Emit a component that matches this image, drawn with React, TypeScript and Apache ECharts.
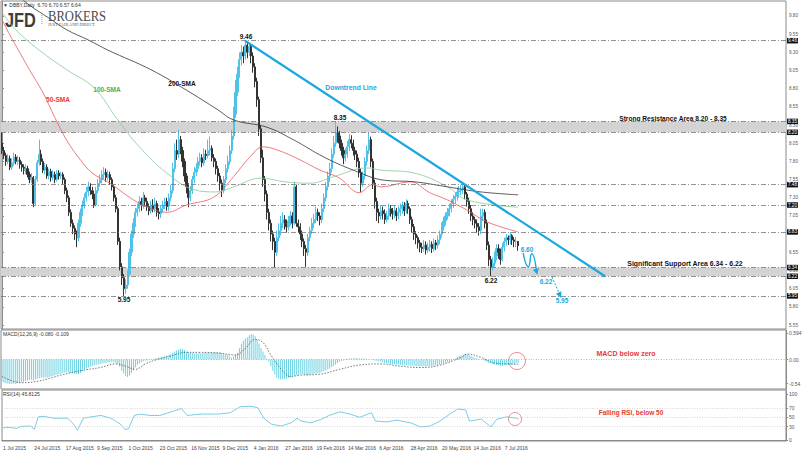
import React, { useEffect, useRef } from "react";
import * as echarts from "echarts";

// ---------- axis / labels ----------
const dateLabels = ["1 Jul 2015", "24 Jul 2015", "17 Aug 2015", "9 Sep 2015", "1 Oct 2015", "23 Oct 2015", "16 Nov 2015", "9 Dec 2015", "4 Jan 2016", "27 Jan 2016", "19 Feb 2016", "14 Mar 2016", "6 Apr 2016", "28 Apr 2016", "20 May 2016", "14 Jun 2016", "7 Jul 2016"];
const LABEL_STEP = 16;
const TOTAL_SLOTS = 400;
const priceTicks = [9.8, 9.55, 9.3, 9.05, 8.8, 8.55, 8.3, 8.05, 7.8, 7.55, 7.3, 7.05, 6.8, 6.55, 6.3, 6.05, 5.8, 5.55];
// 6.80 sits behind the 6.83 price tag in the original, so its text is not shown
const hiddenPriceLabels = [6.8];
const macdTicks = [0.594, 0, -0.54];
const rsiTicks = [100, 70, 50, 30, 0];
const rsiLevels = [70, 50, 30];

// ---------- price data (daily) ----------
const firstOpen = 8.05;
const closes = [
  7.95, 7.88, 7.80, 7.84, 7.72, 7.78, 7.86, 7.80, 7.82, 7.76,
  7.72, 7.68, 7.70, 7.62, 7.55, 7.58, 7.22, 7.55, 7.78, 7.90,
  7.80, 7.68, 7.72, 7.60, 7.66, 7.58, 7.62, 7.55, 7.64, 7.60,
  7.62, 7.55, 7.40, 7.30, 7.10, 6.95, 6.88, 6.80, 6.75, 6.95,
  7.10, 7.20, 7.30, 7.38, 7.45, 7.40, 7.35, 7.20, 7.40, 7.50,
  7.55, 7.62, 7.65, 7.58, 7.62, 7.55, 7.45, 7.30, 7.15, 6.70,
  6.35, 6.20, 6.05, 6.10, 6.25, 6.55, 6.80, 6.95, 7.10, 7.15,
  7.25, 7.20, 7.30, 7.25, 7.18, 7.12, 7.20, 7.15, 7.22, 7.10,
  7.08, 7.15, 7.20, 7.25, 7.18, 7.30, 7.40, 7.70, 7.95, 7.90,
  8.10, 7.95, 7.80, 7.60, 7.45, 7.30, 7.40, 7.55, 7.65, 7.70,
  7.80, 7.85, 7.78, 7.90, 7.88, 7.95, 7.98, 7.85, 7.80, 7.70,
  7.60, 7.50, 7.40, 7.55, 7.70, 7.80, 7.95, 8.15, 8.45, 8.75,
  9.00, 9.20, 9.30, 9.25, 9.40, 9.30, 9.38, 9.25, 9.10, 8.90,
  8.65, 8.25, 7.85, 7.55, 7.35, 7.10, 6.95, 6.80, 6.70, 6.55,
  6.75, 6.85, 6.95, 7.00, 6.95, 6.90, 6.98, 7.05, 6.95, 7.45,
  6.95, 6.90, 6.80, 6.70, 6.60, 6.55, 6.75, 6.85, 6.95, 7.00,
  7.10, 7.05, 7.00, 7.15, 7.30, 7.45, 7.60, 7.70, 7.90, 8.05,
  8.20, 8.15, 8.05, 7.95, 7.85, 7.90, 8.00, 8.10, 8.05, 7.95,
  7.90, 7.80, 7.65, 7.50, 7.60, 7.80, 7.95, 8.10, 7.80, 7.50,
  7.25, 7.10, 7.05, 7.12, 7.08, 7.00, 7.05, 7.15, 7.10, 7.08,
  7.12, 7.05, 7.10, 7.15, 7.18, 7.12, 7.22, 7.15, 7.00, 6.90,
  6.80, 6.75, 6.68, 6.62, 6.60, 6.65, 6.58, 6.62, 6.66, 6.60,
  6.68, 6.65, 6.72, 6.80, 6.90, 6.98, 7.05, 7.10, 7.15, 7.22,
  7.28, 7.32, 7.38, 7.40, 7.42, 7.45, 7.35, 7.25, 7.15, 7.05,
  7.00, 6.95, 6.90, 6.85, 7.05, 7.10, 6.95, 6.65, 6.45, 6.35,
  6.40, 6.50, 6.60, 6.55, 6.45, 6.62, 6.70, 6.75, 6.72, 6.78,
  6.72, 6.70, 6.70, 6.64
];
const highs = [
  8.20, 8.00, 7.92, 7.90, 7.88, 7.84, 7.92, 7.90, 7.88, 7.86,
  7.80, 7.76, 7.76, 7.74, 7.66, 7.64, 7.60, 7.60, 7.82, 8.10,
  7.96, 7.84, 7.78, 7.76, 7.70, 7.70, 7.68, 7.66, 7.68, 7.68,
  7.66, 7.65, 7.58, 7.44, 7.33, 7.14, 7.00, 6.92, 6.85, 7.00,
  7.15, 7.26, 7.36, 7.45, 7.52, 7.50, 7.45, 7.40, 7.45, 7.56,
  7.62, 7.68, 7.72, 7.70, 7.68, 7.66, 7.58, 7.48, 7.34, 7.18,
  6.75, 6.40, 6.25, 6.18, 6.30, 6.60, 6.85, 7.02, 7.16, 7.22,
  7.32, 7.30, 7.38, 7.34, 7.30, 7.22, 7.26, 7.28, 7.30, 7.26,
  7.16, 7.20, 7.26, 7.30, 7.30, 7.36, 7.48, 7.78, 8.05, 8.10,
  8.23, 8.15, 8.00, 7.84, 7.64, 7.50, 7.46, 7.60, 7.72, 7.78,
  7.86, 7.92, 7.90, 7.98, 7.96, 8.10, 8.14, 8.02, 7.90, 7.84,
  7.74, 7.64, 7.55, 7.60, 7.76, 7.88, 8.02, 8.23, 8.55, 8.92,
  9.10, 9.30, 9.40, 9.38, 9.46, 9.44, 9.43, 9.42, 9.30, 9.15,
  8.95, 8.69, 8.30, 7.96, 7.60, 7.40, 7.15, 7.00, 6.85, 6.75,
  6.85, 6.95, 7.05, 7.10, 7.06, 7.00, 7.05, 7.12, 7.10, 7.52,
  7.48, 7.00, 6.95, 6.85, 6.74, 6.65, 6.80, 6.90, 7.02, 7.08,
  7.18, 7.15, 7.10, 7.22, 7.36, 7.52, 7.66, 7.78, 7.98, 8.15,
  8.35, 8.28, 8.22, 8.10, 8.00, 7.98, 8.08, 8.18, 8.16, 8.10,
  8.00, 7.95, 7.85, 7.70, 7.66, 7.86, 8.02, 8.20, 8.14, 7.84,
  7.55, 7.30, 7.15, 7.20, 7.18, 7.14, 7.12, 7.22, 7.20, 7.16,
  7.20, 7.16, 7.18, 7.22, 7.25, 7.24, 7.28, 7.26, 7.18, 7.04,
  6.94, 6.84, 6.78, 6.72, 6.68, 6.72, 6.70, 6.68, 6.72, 6.70,
  6.74, 6.72, 6.78, 6.85, 6.96, 7.04, 7.10, 7.16, 7.22, 7.28,
  7.34, 7.38, 7.44, 7.46, 7.48, 7.52, 7.48, 7.38, 7.30, 7.20,
  7.10, 7.04, 7.00, 6.95, 7.15, 7.15, 7.14, 7.00, 6.70, 6.50,
  6.48, 6.56, 6.66, 6.66, 6.60, 6.68, 6.75, 6.80, 6.78, 6.83,
  6.80, 6.76, 6.76, 6.70
];
const lows = [
  7.90, 7.83, 7.74, 7.76, 7.68, 7.68, 7.74, 7.76, 7.75, 7.70,
  7.66, 7.62, 7.63, 7.58, 7.50, 7.50, 7.17, 7.20, 7.52, 7.74,
  7.75, 7.64, 7.62, 7.56, 7.55, 7.52, 7.54, 7.50, 7.52, 7.55,
  7.56, 7.48, 7.35, 7.24, 7.05, 6.90, 6.80, 6.72, 6.62, 6.70,
  6.90, 7.05, 7.15, 7.25, 7.32, 7.34, 7.28, 7.16, 7.18, 7.36,
  7.45, 7.50, 7.56, 7.52, 7.54, 7.48, 7.40, 7.25, 7.10, 6.65,
  6.30, 6.10, 5.95, 5.98, 6.05, 6.22, 6.50, 6.75, 6.90, 7.04,
  7.10, 7.12, 7.15, 7.18, 7.12, 7.06, 7.08, 7.10, 7.10, 7.04,
  7.00, 7.02, 7.10, 7.14, 7.12, 7.12, 7.25, 7.36, 7.65, 7.82,
  7.85, 7.90, 7.72, 7.52, 7.36, 7.17, 7.25, 7.35, 7.50, 7.60,
  7.65, 7.74, 7.72, 7.74, 7.82, 7.84, 7.88, 7.80, 7.72, 7.62,
  7.52, 7.40, 7.31, 7.36, 7.50, 7.65, 7.75, 7.90, 8.10, 8.40,
  8.70, 8.95, 9.12, 9.15, 9.20, 9.22, 9.25, 9.15, 9.02, 8.82,
  8.55, 8.15, 7.78, 7.45, 7.25, 7.00, 6.85, 6.70, 6.58, 6.34,
  6.50, 6.70, 6.78, 6.88, 6.86, 6.82, 6.85, 6.92, 6.88, 6.92,
  6.90, 6.82, 6.72, 6.62, 6.50, 6.35, 6.50, 6.70, 6.80, 6.88,
  6.95, 6.98, 6.92, 6.95, 7.10, 7.25, 7.40, 7.52, 7.65, 7.85,
  8.00, 8.06, 7.98, 7.88, 7.76, 7.80, 7.85, 7.94, 7.98, 7.88,
  7.82, 7.72, 7.58, 7.38, 7.45, 7.55, 7.74, 7.90, 7.72, 7.42,
  7.15, 6.98, 6.95, 7.00, 7.00, 6.94, 6.96, 7.00, 7.04, 7.00,
  7.02, 6.98, 7.00, 7.05, 7.08, 7.05, 7.08, 7.08, 6.94, 6.82,
  6.72, 6.66, 6.60, 6.55, 6.54, 6.56, 6.52, 6.54, 6.56, 6.54,
  6.56, 6.58, 6.60, 6.66, 6.75, 6.85, 6.92, 7.00, 7.04, 7.10,
  7.16, 7.22, 7.26, 7.30, 7.34, 7.35, 7.28, 7.18, 7.08, 6.98,
  6.92, 6.88, 6.82, 6.78, 6.80, 6.98, 6.88, 6.58, 6.36, 6.22,
  6.30, 6.35, 6.44, 6.46, 6.38, 6.42, 6.56, 6.64, 6.65, 6.66,
  6.65, 6.62, 6.62, 6.57
];

// moving averages, read at [bar index, value]
const sma50 = [[0, 9.75], [4, 9.54], [9, 9.30], [14, 9.06], [21, 8.74], [27, 8.40], [33, 8.09], [40, 7.82], [46, 7.64], [55, 7.50], [67, 7.27], [75, 7.16], [84, 7.10], [94, 7.20], [108, 7.31], [118, 7.59], [126, 7.85], [133, 8.00], [140, 7.96], [152, 7.82], [162, 7.68], [172, 7.57], [182, 7.37], [189, 7.48], [193, 7.45], [208, 7.52], [218, 7.37], [227, 7.27], [237, 7.13], [247, 6.97], [263, 6.83]];
const sma100 = [[0, 9.85], [7, 9.61], [19, 9.33], [33, 9.06], [47, 8.81], [59, 8.37], [70, 8.00], [84, 7.64], [98, 7.41], [109, 7.38], [118, 7.45], [132, 7.57], [144, 7.52], [157, 7.50], [169, 7.59], [186, 7.71], [193, 7.68], [210, 7.64], [227, 7.45], [237, 7.27], [263, 7.17]];
const sma200 = [[0, 10.25], [14, 9.95], [24, 9.77], [33, 9.61], [44, 9.47], [54, 9.33], [76, 9.06], [94, 8.78], [110, 8.51], [118, 8.37], [135, 8.27], [149, 8.09], [164, 7.86], [179, 7.68], [195, 7.54], [210, 7.52], [227, 7.45], [244, 7.38], [263, 7.34]];

// MACD histogram per bar and signal line
const macd = [
  -0.50, -0.52, -0.53, -0.54, -0.55, -0.55, -0.54, -0.54, -0.53, -0.52,
  -0.51, -0.50, -0.48, -0.47, -0.46, -0.45, -0.47, -0.45, -0.43, -0.42,
  -0.41, -0.41, -0.40, -0.40, -0.39, -0.38, -0.37, -0.35, -0.34, -0.33,
  -0.32, -0.30, -0.29, -0.28, -0.29, -0.30, -0.31, -0.32, -0.33, -0.33,
  -0.30, -0.26, -0.22, -0.20, -0.18, -0.16, -0.15, -0.13, -0.12, -0.11,
  -0.10, -0.09, -0.08, -0.07, -0.06, -0.06, -0.05, -0.06, -0.08, -0.10,
  -0.16, -0.25, -0.32, -0.37, -0.39, -0.36, -0.30, -0.24, -0.18, -0.12,
  -0.09, -0.06, -0.04, -0.02, -0.02, -0.01, 0.00, 0.01, 0.02, 0.03,
  0.04, 0.05, 0.06, 0.07, 0.09, 0.10, 0.12, 0.15, 0.18, 0.20,
  0.22, 0.24, 0.23, 0.21, 0.18, 0.16, 0.15, 0.15, 0.14, 0.14,
  0.14, 0.14, 0.14, 0.15, 0.15, 0.15, 0.15, 0.16, 0.16, 0.16,
  0.16, 0.16, 0.14, 0.12, 0.11, 0.10, 0.07, 0.04, 0.07, 0.11,
  0.15, 0.25, 0.35, 0.42, 0.47, 0.50, 0.54, 0.57, 0.56, 0.52,
  0.45, 0.35, 0.26, 0.18, 0.10, 0.02, -0.05, -0.15, -0.25, -0.33,
  -0.40, -0.43, -0.45, -0.45, -0.44, -0.43, -0.41, -0.40, -0.38, -0.36,
  -0.35, -0.34, -0.33, -0.33, -0.34, -0.35, -0.35, -0.34, -0.33, -0.32,
  -0.32, -0.31, -0.30, -0.28, -0.26, -0.24, -0.22, -0.20, -0.17, -0.14,
  -0.11, -0.08, -0.05, -0.03, -0.02, -0.01, 0.01, 0.02, 0.02, 0.03,
  0.03, 0.03, 0.03, 0.02, 0.02, 0.02, 0.01, 0.01, 0.00, -0.01,
  -0.02, -0.03, -0.04, -0.05, -0.06, -0.07, -0.08, -0.09, -0.10, -0.10,
  -0.11, -0.11, -0.12, -0.12, -0.12, -0.13, -0.13, -0.13, -0.14, -0.14,
  -0.14, -0.15, -0.15, -0.15, -0.15, -0.15, -0.15, -0.15, -0.15, -0.14,
  -0.14, -0.13, -0.13, -0.12, -0.10, -0.09, -0.07, -0.06, -0.05, -0.03,
  -0.01, 0.02, 0.05, 0.07, 0.09, 0.11, 0.13, 0.12, 0.10, 0.08,
  0.06, 0.04, 0.02, 0.01, 0.00, -0.01, -0.03, -0.05, -0.07, -0.08,
  -0.10, -0.11, -0.12, -0.13, -0.14, -0.14, -0.13, -0.13, -0.12, -0.12,
  -0.11, -0.10, -0.09, -0.08
];
const macdSignal = [[0, -0.38], [10, -0.52], [19, -0.48], [30, -0.35], [40, -0.25], [50, -0.18], [58, -0.10], [63, -0.15], [68, -0.22], [73, -0.10], [79, 0.00], [86, 0.08], [94, 0.16], [101, 0.16], [111, 0.14], [119, 0.10], [124, 0.25], [129, 0.45], [133, 0.38], [137, 0.10], [142, -0.20], [147, -0.38], [152, -0.35], [162, -0.33], [172, -0.22], [183, -0.12], [193, -0.10], [203, -0.15], [213, -0.18], [223, -0.13], [234, 0.05], [237, 0.12], [244, 0.05], [251, -0.08], [259, -0.10], [263, -0.11]];
const rsi = [[0, 27], [3, 28], [7, 26], [9, 30], [14, 31], [16, 24], [18, 51], [21, 52], [26, 48], [33, 48], [36, 35], [38, 22], [41, 48], [45, 51], [50, 54], [55, 48], [60, 35], [62, 24], [64, 25], [67, 54], [70, 57], [75, 54], [80, 54], [86, 62], [91, 69], [94, 54], [101, 57], [110, 57], [116, 60], [121, 73], [126, 74], [130, 71], [133, 48], [137, 35], [142, 31], [147, 38], [150, 48], [152, 42], [157, 38], [162, 45], [167, 55], [172, 62], [177, 57], [182, 50], [188, 60], [190, 42], [196, 40], [201, 44], [203, 42], [208, 38], [213, 29], [218, 31], [223, 42], [228, 57], [232, 68], [236, 66], [238, 42], [244, 46], [249, 29], [252, 46], [257, 51], [262, 48], [263, 45.5]];

// levels & annotations (data coordinates)
const levelLines = [9.46, 8.35, 8.2, 7.48, 7.2, 6.83, 6.34, 6.22, 5.95];
const currentPrice = 6.64;
const zones = [[8.2, 8.35], [6.22, 6.34]];
const trendLine = [[123.8, 9.46], [307.3, 6.22]];
const projWave = [[265.6, 6.54], [268.2, 6.35], [269.9, 6.53], [272.4, 6.28]];
const projDash = [[280.3, 6.21], [284.3, 5.96]];

const PRICE_MIN = 5.495, PRICE_MAX = 10.006;
const CYAN = "#1aa8e0";

export default function App() {
  const ref = useRef<HTMLDivElement>(null);
  useEffect(() => {
    const chart = echarts.init(ref.current!, null, { renderer: "svg" });
    const categories = Array.from({ length: TOTAL_SLOTS }, (_, i) => String(i));
    const showLabel = (i: number) => i % LABEL_STEP === 0 && i / LABEL_STEP < dateLabels.length;
    const candles = closes.map((c, i) => [i === 0 ? firstOpen : closes[i - 1], c, lows[i], highs[i]]);
    const priceLabelValues = priceTicks.filter((v) => !hiddenPriceLabels.includes(v));
    const font = "Liberation Sans";
    const txt = (x: number, y: number, text: string, fill: string, size = 6.5, weight = "bold", align = "center") => ({
      type: "text", x, y, silent: true,
      style: { text, fill, fontSize: size, fontWeight: weight, fontFamily: font, align, verticalAlign: "middle" },
    });
    const option: any = {
      animation: false,
      textStyle: { fontFamily: font },
      grid: [
        { left: 1, top: 1, width: 785, height: 328, show: true, borderColor: "#8a8a8a", borderWidth: 1 },
        { left: 1, top: 330, width: 785, height: 59, show: true, borderColor: "#8a8a8a", borderWidth: 1 },
        { left: 1, top: 390, width: 785, height: 51, show: true, borderColor: "#8a8a8a", borderWidth: 1 },
      ],
      xAxis: [
        { type: "category", gridIndex: 0, data: categories, show: false },
        { type: "category", gridIndex: 1, data: categories, show: false },
        {
          type: "category", gridIndex: 2, data: categories,
          axisLine: { lineStyle: { color: "#8a8a8a" } },
          axisTick: { alignWithLabel: true, interval: (i: number) => showLabel(i), length: 3, lineStyle: { color: "#8a8a8a" } },
          axisLabel: { interval: (i: number) => showLabel(i), formatter: (_v: string, i: number) => dateLabels[i / LABEL_STEP] ?? "", fontSize: 5, color: "#444", align: "left", margin: 4 },
          splitLine: { show: false },
        },
        { type: "value", gridIndex: 0, min: -0.5, max: TOTAL_SLOTS - 0.5, show: false },
      ],
      yAxis: [
        {
          type: "value", gridIndex: 0, position: "right", min: PRICE_MIN, max: PRICE_MAX,
          axisLine: { show: true, lineStyle: { color: "#8a8a8a" } },
          axisTick: { show: true, length: 2, customValues: priceTicks, lineStyle: { color: "#8a8a8a" } },
          axisLabel: { customValues: priceLabelValues, formatter: (v: number) => v.toFixed(2), fontSize: 4.6, color: "#555", margin: 3 },
          splitLine: { show: false },
        },
        {
          type: "value", gridIndex: 1, position: "right", min: -0.66, max: 0.66,
          axisLine: { show: true, lineStyle: { color: "#8a8a8a" } },
          axisTick: { show: true, length: 2, customValues: macdTicks, lineStyle: { color: "#8a8a8a" } },
          axisLabel: { customValues: macdTicks, formatter: (v: number) => (v === 0 ? "0.00" : String(v)), fontSize: 5, color: "#555", margin: 3 },
          splitLine: { show: false },
        },
        {
          type: "value", gridIndex: 2, position: "right", min: -1.5, max: 109.3,
          axisLine: { show: true, lineStyle: { color: "#8a8a8a" } },
          axisTick: { show: true, length: 2, customValues: rsiTicks, lineStyle: { color: "#8a8a8a" } },
          axisLabel: { customValues: rsiTicks, fontSize: 5, color: "#555", margin: 3 },
          splitLine: { show: false },
        },
      ],
      series: [
        {
          type: "line", xAxisIndex: 0, yAxisIndex: 0, data: [], z: 1, silent: true,
          markArea: { silent: true, itemStyle: { color: "#d3d3d3" }, data: zones.map(([a, b]) => [{ yAxis: a }, { yAxis: b }]) },
          markLine: {
            silent: true, symbol: "none",
            lineStyle: { color: "#777", width: 0.8, type: [5, 2, 1, 2] },
            label: { show: true, position: "end", distance: 1, formatter: (p: any) => Number(p.value).toFixed(2), fontSize: 4.6, lineHeight: 5, color: "#fff", backgroundColor: "#111", padding: [0.5, 1, 0, 1] },
            data: [
              ...levelLines.map((v) => ({ yAxis: v })),
              { yAxis: currentPrice, lineStyle: { opacity: 0 }, label: { backgroundColor: "#666" } },
            ],
          },
        },
        {
          type: "candlestick", xAxisIndex: 0, yAxisIndex: 0, data: candles, z: 3, barWidth: 1.6,
          itemStyle: { color: "#4fc2ea", color0: "#333333", borderColor: "#4fc2ea", borderColor0: "#333333", borderWidth: 1 },
        },
        { type: "line", xAxisIndex: 0, yAxisIndex: 0, data: sma50, smooth: 0.4, symbol: "none", z: 4, lineStyle: { color: "#ec5a5a", width: 0.8 } },
        { type: "line", xAxisIndex: 0, yAxisIndex: 0, data: sma100, smooth: 0.4, symbol: "none", z: 4, lineStyle: { color: "#86c996", width: 0.8 } },
        { type: "line", xAxisIndex: 0, yAxisIndex: 0, data: sma200, smooth: 0.4, symbol: "none", z: 4, lineStyle: { color: "#333", width: 0.8 } },
        { type: "line", xAxisIndex: 3, yAxisIndex: 0, data: trendLine, symbol: "none", z: 5, lineStyle: { color: CYAN, width: 2.2 } },
        {
          type: "line", xAxisIndex: 3, yAxisIndex: 0, smooth: 0.6, z: 5, symbol: "none", lineStyle: { color: CYAN, width: 1.4 },
          data: projWave.map((p, i) => (i === projWave.length - 1 ? { value: p, symbol: "triangle", symbolSize: 6, symbolRotate: 195, itemStyle: { color: CYAN } } : { value: p })),
        },
        {
          type: "line", xAxisIndex: 3, yAxisIndex: 0, z: 5, symbol: "none", lineStyle: { color: CYAN, width: 1, type: [2, 1.5] },
          data: projDash.map((p, i) => (i === projDash.length - 1 ? { value: p, symbol: "triangle", symbolSize: 6, symbolRotate: 205, itemStyle: { color: CYAN } } : { value: p })),
        },
        {
          type: "bar", xAxisIndex: 1, yAxisIndex: 1, data: macd, barWidth: 1, z: 2,
          itemStyle: { color: "#6dd3e3" },
          markLine: { silent: true, symbol: "none", label: { show: false }, lineStyle: { color: "#5ec4dc", width: 0.8, type: [1, 1.5] }, data: [{ yAxis: 0 }] },
        },
        { type: "line", xAxisIndex: 1, yAxisIndex: 1, data: macdSignal, smooth: 0.4, symbol: "none", z: 3, lineStyle: { color: "#555", width: 0.8, type: [1.5, 1.5] } },
        {
          type: "line", xAxisIndex: 2, yAxisIndex: 2, data: rsi, symbol: "none", z: 3, lineStyle: { color: "#5bbfdc", width: 0.8 },
          markLine: { silent: true, symbol: "none", label: { show: false }, lineStyle: { color: "#c4c4c4", width: 0.7, type: [1, 1.5] }, data: rsiLevels.map((v) => ({ yAxis: v })) },
        },
      ],
      graphic: [
        txt(3, 4.5, "▼ DBBY,Daily  6.70 6.70 6.57 6.64", "#333", 5, "normal", "left"),
        { type: "text", x: 5, y: 9, scaleX: 0.78, silent: true, style: { text: "JFD", fill: "#3d3d3d", fontSize: 21, fontWeight: "bold", fontFamily: font } },
        { type: "line", silent: true, shape: { x1: 42, y1: 13, x2: 42, y2: 25 }, style: { stroke: "#888", lineWidth: 0.8, lineDash: [1, 1] } },
        { type: "text", x: 48, y: 8.5, scaleX: 0.84, silent: true, style: { text: "BROKERS", fill: "#4a4a4a", fontSize: 15, fontFamily: "Liberation Serif" } },
        { type: "text", x: 48, y: 22, silent: true, style: { text: "JUST FAIR AND DIRECT", fill: "#555", fontSize: 4.3, fontFamily: "Liberation Serif" } },
        txt(246, 36, "9.46", "#111"),
        txt(340, 117, "8.35", "#111"),
        txt(124, 299, "5.95", "#111"),
        txt(273, 270, "6.34", "#111"),
        txt(491, 280, "6.22", "#111"),
        txt(673, 118, "Strong Resistance Area 8.20 - 8.35", "#111", 6.6),
        txt(685, 263, "Significant Support Area 6.34 - 6.22", "#111", 6.9),
        txt(351, 87, "Downtrend Line", CYAN, 6.8),
        txt(182, 83, "200-SMA", "#111", 6.5),
        txt(107, 89, "100-SMA", "#4caf50", 6.5),
        txt(58, 99, "50-SMA", "#e53935", 6.5),
        txt(527, 249, "6.60", CYAN, 6.5),
        txt(546, 281, "6.22", CYAN, 6.5),
        txt(562, 300, "5.95", CYAN, 6.5),
        txt(3, 334, "MACD(12,26,9) -0.080 -0.109", "#333", 5, "normal", "left"),
        txt(3, 394, "RSI(14) 45.8125", "#333", 5, "normal", "left"),
        txt(626, 353, "MACD below zero", "#e53935", 7),
        txt(631, 412, "Falling RSI, below 50", "#e53935", 6.5),
        { type: "circle", silent: true, shape: { cx: 517, cy: 361, r: 8.5 }, style: { fill: "none", stroke: "#e57373", lineWidth: 0.8 } },
        { type: "circle", silent: true, shape: { cx: 515, cy: 419, r: 6.5 }, style: { fill: "none", stroke: "#e57373", lineWidth: 0.8 } },
      ],
    };
    chart.setOption(option);
    return () => chart.dispose();
  }, []);
  return <div ref={ref} style={{ position: "fixed", left: 0, top: 0, width: 806, height: 454, background: "#fff" }} />;
}
